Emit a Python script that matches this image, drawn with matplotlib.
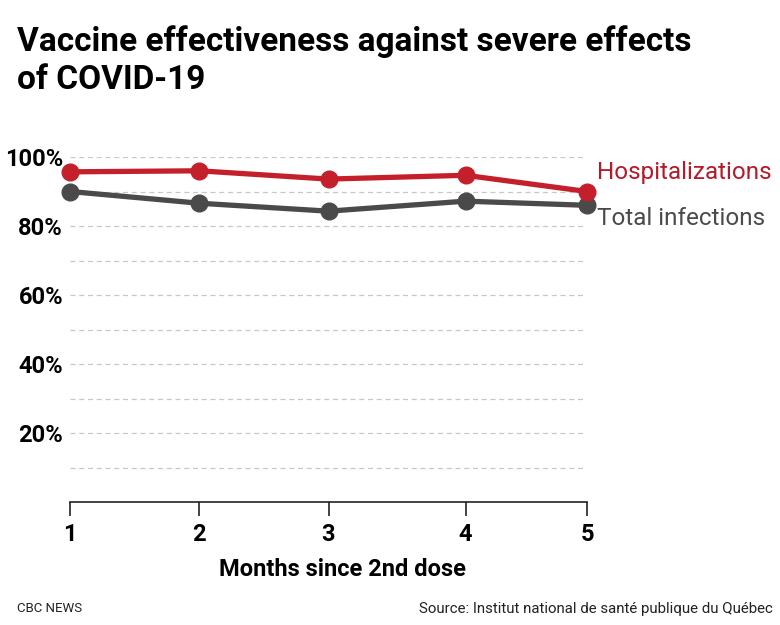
import matplotlib.pyplot as plt

# Data
months = ['1', '2', '3', '4', '5']
month_pos = [1, 2, 3, 4.06, 5]      # the 4th month sits slightly right in the original
hospitalizations = [95.7, 96.0, 93.6, 94.7, 90.0]
total_infections = [90.0, 86.6, 84.3, 87.2, 86.0]
y_ticks = [20, 40, 60, 80, 100]
y_grid = [10, 20, 30, 40, 50, 60, 70, 80, 90, 100]

red = '#c4202b'
gray = '#4a4a4a'

plt.rcParams['font.family'] = ['Roboto', 'DejaVu Sans']

fig = plt.figure(figsize=(7.8, 6.25), dpi=100)
ax = fig.add_axes([70 / 780, 1 - 502 / 625, (587 - 70) / 780, (502 - 157) / 625])

# dashed gridlines every 10%
for g in y_grid:
    ax.axhline(g, color='#c8c8c8', lw=0.9, ls=(0, (4, 3)), zorder=1)

ax.plot(month_pos, total_infections, color=gray, lw=3.8, marker='o', ms=12,
        clip_on=False, zorder=3)
ax.plot(month_pos, hospitalizations, color=red, lw=3.8, marker='o', ms=12,
        clip_on=False, zorder=4)

ax.set_xlim(1, 5)
ax.set_ylim(0, 100)
ax.set_xticks(month_pos)
ax.set_xticklabels(months)
ax.set_yticks(y_ticks)
ax.set_yticklabels([f'{v}%' for v in y_ticks])
for s in ['left', 'right', 'top']:
    ax.spines[s].set_visible(False)
ax.spines['bottom'].set_color('#222222')
ax.spines['bottom'].set_linewidth(1.2)
ax.tick_params(axis='x', length=10, width=1.2, color='#222222', pad=5,
               labelsize=17)
ax.tick_params(axis='y', length=0, pad=5, labelsize=17)
for lbl in ax.get_xticklabels() + ax.get_yticklabels():
    lbl.set_fontweight('bold')

# series labels on the right
ax.text(5.08, hospitalizations[-1] + 5.6, 'Hospitalizations', color='#b31b2b',
        fontsize=17.5, va='center', ha='left', clip_on=False)
ax.text(5.08, total_infections[-1] - 3.7, 'Total infections', color=gray,
        fontsize=17.5, va='center', ha='left', clip_on=False)

fig.text(342 / 780, 1 - 570 / 625, 'Months since 2nd dose', ha='center',
         va='center', fontsize=17, fontweight='bold')

fig.text(17 / 780, 1 - 42 / 625, 'Vaccine effectiveness against severe effects',
         fontsize=24, fontweight='bold', va='center', ha='left')
fig.text(17 / 780, 1 - 80 / 625, 'of COVID-19',
         fontsize=24, fontweight='bold', va='center', ha='left')

fig.text(17 / 780, 1 - 609 / 625, 'CBC NEWS', fontsize=9.5, va='center',
         ha='left', color='#222222')
fig.text(773 / 780, 1 - 609 / 625, 'Source: Institut national de santé publique du Québec',
         fontsize=10.8, va='center', ha='right', color='#222222')

fig.savefig('out.png', dpi=100, facecolor='white')
